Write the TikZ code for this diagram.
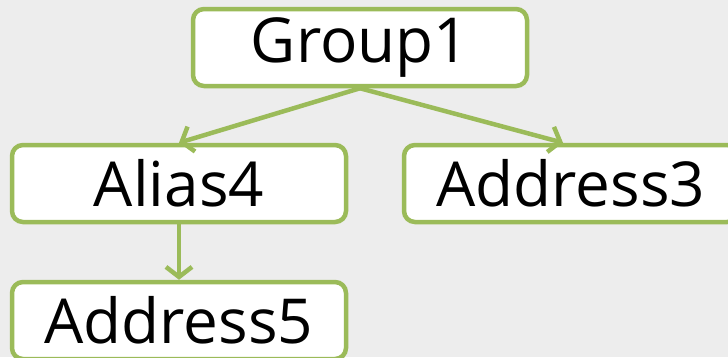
\documentclass[tikz,border=0pt]{standalone}
\usepackage{fontspec}
\setmainfont{Open Sans}
\usepackage{tikz}
\usetikzlibrary{arrows.meta,positioning}

\definecolor{leafgreen}{RGB}{155,187,89}
\definecolor{paper}{RGB}{237,237,237}

\tikzset{
  entry/.style={draw=leafgreen, fill=white, line width=4.5pt, rounded corners=11pt,
    minimum width=334pt, minimum height=77pt, inner sep=0pt,
    font=\fontsize{62}{64}\selectfont},
  link/.style={draw=leafgreen, line width=4.5pt,
    -{Straight Barb[length=10pt,width=26pt]}}
}

\begin{document}
\begin{tikzpicture}[x=1pt, y=1pt]
    \fill[paper] (0,0) rectangle (728,-357);
    \useasboundingbox (0,0) rectangle (728,-357);
    \clip (0,0) rectangle (728,-357);
    % nodes
    \node (group) [entry] at (360,-47.5) {Group1};
    \node (alias) [entry] at (179,-183.5) {Alias4};
    \node (addrthree) [entry] at (571,-183.5) {Address3};
    \node (addrfive) [entry] at (179,-320.5) {Address5};
    % links
    \draw[link] (group.south) -- (alias.north);
    \draw[link] (group.south) -- ([xshift=-8pt]addrthree.north);
    \draw[link] (alias.south) -- (addrfive.north);
\end{tikzpicture}
\end{document}
